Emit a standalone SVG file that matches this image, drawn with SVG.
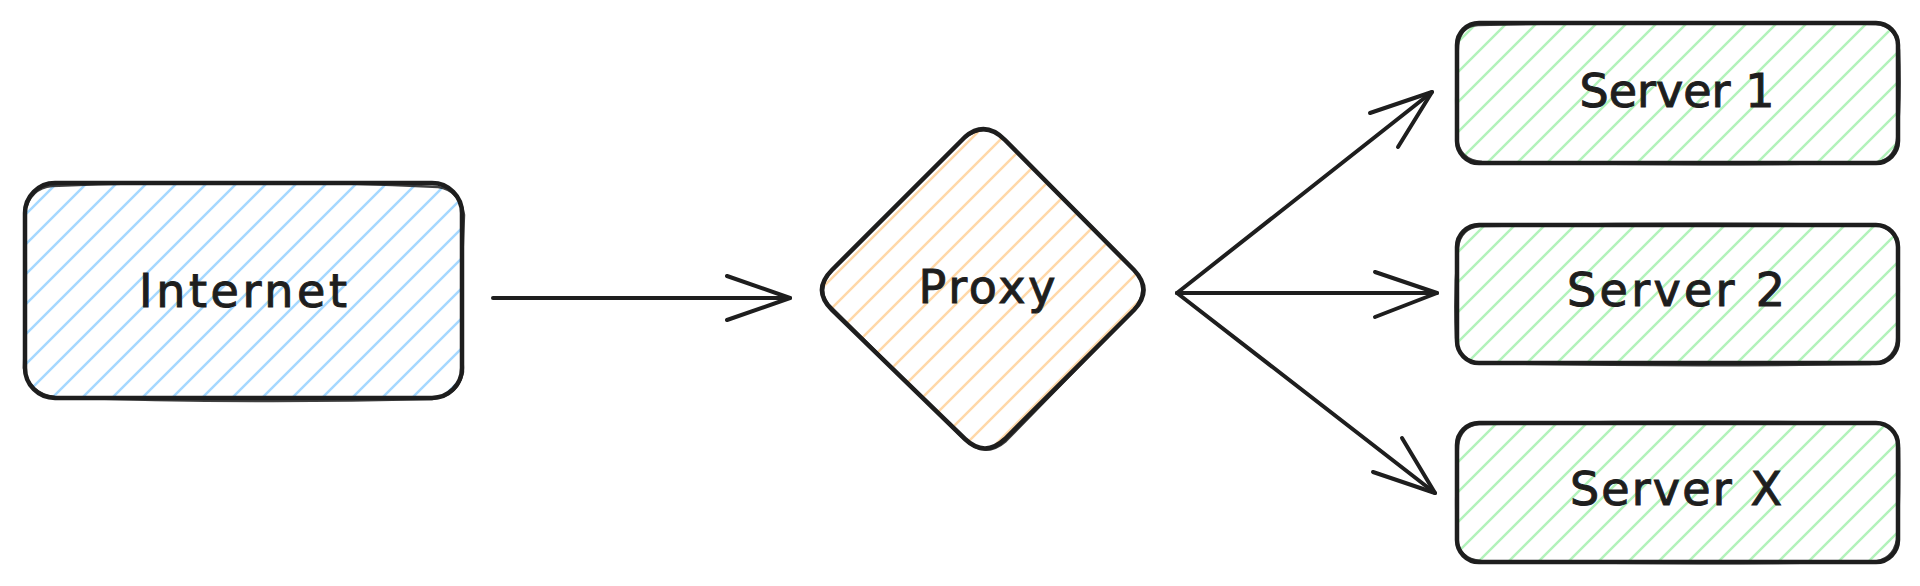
<svg xmlns="http://www.w3.org/2000/svg" width="1920" height="586" viewBox="0 0 1920 586">
<defs>
<style>
.outline{fill:none;stroke:#1e1e1e;stroke-width:4.5;stroke-linecap:round;stroke-linejoin:round}
.sketch{fill:none;stroke:#1e1e1e;stroke-width:2.5;stroke-linecap:round;stroke-linejoin:round;opacity:0.85}
.conn{fill:none;stroke:#1e1e1e;stroke-width:4;stroke-linecap:round;stroke-linejoin:round}
.label{font-family:"DejaVu Sans","Liberation Sans",sans-serif;font-size:46px;fill:#1e1e1e;stroke:#1e1e1e;stroke-width:1;text-anchor:middle}
</style>
<pattern id="hBlue" patternUnits="userSpaceOnUse" width="30" height="30">
<path d="M-3,3 L3,-3 M0,30 L30,0 M27,33 L33,27" stroke="#a5d8ff" stroke-width="2.5"/>
</pattern>
<pattern id="hOrange" patternUnits="userSpaceOnUse" width="30" height="30">
<path d="M-3,3 L3,-3 M0,30 L30,0 M27,33 L33,27" stroke="#ffd8a8" stroke-width="2.5"/>
</pattern>
<pattern id="hGreen" patternUnits="userSpaceOnUse" width="30" height="30">
<path d="M-3,3 L3,-3 M0,30 L30,0 M27,33 L33,27" stroke="#b2f2bb" stroke-width="2.5"/>
</pattern>
</defs>
<rect width="1920" height="586" fill="#ffffff"/>

<g id="internet">
<rect x="25" y="183" width="437" height="215" rx="30" fill="url(#hBlue)"/>
<rect x="25" y="183" width="437" height="215" rx="30" class="outline"/>
<path d="M52,186 Q250,178 438,187 Q460,190 464,215 Q460,300 463,372 Q458,396 432,399 Q240,404 55,397 Q28,394 24,368 Q27,290 25,212 Q30,188 52,186" class="sketch"/>
<text x="243" y="307" class="label" textLength="208" lengthAdjust="spacing">Internet</text>
</g>

<g id="proxy">
<path d="M965,137 Q985,120 1005,140 L1134,270 Q1153,290 1134,310 L1005,439 Q985,458 965,439 L832,310 Q812,290 832,270 Z" fill="url(#hOrange)"/>
<path d="M965,137 Q985,120 1005,140 L1134,270 Q1153,290 1134,310 L1005,439 Q985,458 965,439 L832,310 Q812,290 832,270 Z" class="outline"/>
<path d="M962,140 Q986,119 1008,142 L1136,272 Q1151,292 1131,313 L1006,441 Q984,460 962,437 L829,305 Q814,288 835,267 Z" class="sketch"/>
<text x="987" y="303" class="label" textLength="137" lengthAdjust="spacing">Proxy</text>
</g>

<g id="server1">
<rect x="1457" y="23" width="441" height="140" rx="22" fill="url(#hGreen)"/>
<rect x="1457" y="23" width="441" height="140" rx="22" class="outline"/>
<path d="M1478,25 Q1680,20 1876,24 Q1897,26 1899,50 Q1901,100 1897,140 Q1894,162 1872,163 Q1670,166 1482,162 Q1459,160 1457,138 Q1455,90 1458,46 Q1460,26 1478,25" class="sketch"/>
<text x="1677" y="107" class="label" textLength="195" lengthAdjust="spacing">Server 1</text>
</g>

<g id="server2">
<rect x="1457" y="225" width="441" height="138" rx="22" fill="url(#hGreen)"/>
<rect x="1457" y="225" width="441" height="138" rx="22" class="outline"/>
<path d="M1480,226 Q1680,222 1876,225 Q1897,228 1898,250 Q1900,300 1897,342 Q1893,362 1870,364 Q1670,367 1480,363 Q1457,360 1456,338 Q1454,290 1458,248 Q1460,228 1480,226" class="sketch"/>
<text x="1676" y="306" class="label" textLength="218" lengthAdjust="spacing">Server 2</text>
</g>

<g id="serverx">
<rect x="1457" y="423" width="441" height="139" rx="22" fill="url(#hGreen)"/>
<rect x="1457" y="423" width="441" height="139" rx="22" class="outline"/>
<path d="M1479,424 Q1680,420 1877,423 Q1898,426 1899,448 Q1900,500 1897,540 Q1893,561 1871,562 Q1670,565 1481,561 Q1458,559 1457,537 Q1455,490 1458,446 Q1460,426 1479,424" class="sketch"/>
<text x="1676" y="505" class="label" textLength="212" lengthAdjust="spacing">Server X</text>
</g>

<g id="connectors">
<path d="M493,298 L790,298" class="conn"/>
<path d="M727,276 L790,298 L727,320" class="conn"/>
<path d="M1177,293 L1432,92" class="conn"/>
<path d="M1370,113 L1432,92 L1398,147" class="conn"/>
<path d="M1177,293 L1437,293" class="conn"/>
<path d="M1375,272 L1437,293 L1375,317" class="conn"/>
<path d="M1177,293 L1435,493" class="conn"/>
<path d="M1373,472 L1435,493 L1402,438" class="conn"/>
</g>
</svg>
